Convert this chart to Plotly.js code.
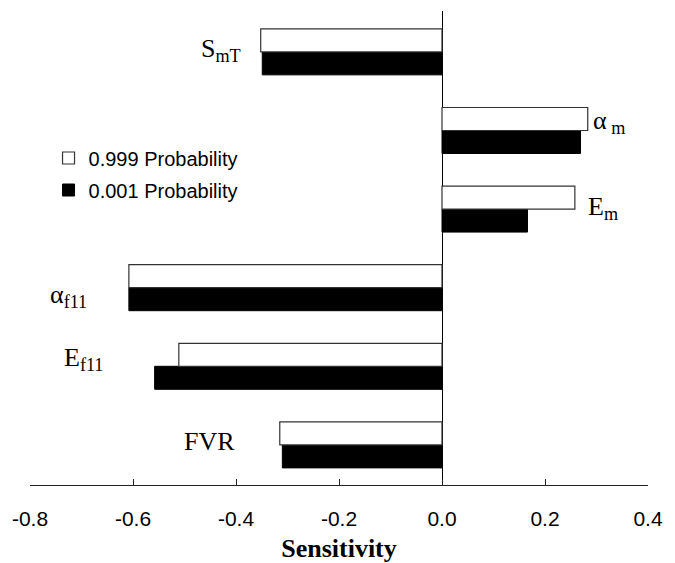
<!DOCTYPE html>
<html>
<head>
<meta charset="utf-8">
<script src="https://cdn.plot.ly/plotly-3.0.1.min.js"></script>
<style>html,body{margin:0;padding:0;background:#fff;}#chart{width:675px;height:563px;}</style>
</head>
<body>
<div id="chart"></div>
<script>
// categories from bottom to top
var categories = ["FVR", "Ef11", "af11", "Em", "am", "SmT"];
var categoryLabels = ["FVR", "E<sub>f11</sub>", "α<sub>f11</sub>", "E<sub>m</sub>", "α<sub> m</sub>", "S<sub>mT</sub>"];
var prob999 = [-0.315, -0.511, -0.608, 0.258, 0.283, -0.352];
var prob001 = [-0.310, -0.558, -0.608, 0.166, 0.269, -0.349];
var seriesNames = ["0.999 Probability", "0.001 Probability"];
var xTicks = [-0.8, -0.6, -0.4, -0.2, 0.0, 0.2, 0.4];
var xTickText = ["-0.8", "-0.6", "-0.4", "-0.2", "0.0", "0.2", "0.4"];

// label placement (styles/positions, not data)
var labelX = [-0.399, -0.655, -0.685, 0.28, 0.29, -0.387];
var labelAnchor = ["right", "right", "right", "left", "left", "right"];
var labelShift = [3, 7, -8, 1, 8, 2];

var traces = [
  {type: "bar", orientation: "h", y: categories, x: prob001, name: seriesNames[1],
   legendrank: 2, legendgroup: "b",
   marker: {color: "#000000", line: {color: "#000000", width: 1}}},
  {type: "bar", orientation: "h", y: categories, x: prob999, name: seriesNames[0],
   legendrank: 1, legendgroup: "a",
   marker: {color: "#ffffff", line: {color: "#333333", width: 1.2}}}
];

var annotations = categories.map(function (c, i) {
  return {x: labelX[i], y: c, xref: "x", yref: "y", text: categoryLabels[i],
    showarrow: false, xanchor: labelAnchor[i], yanchor: "middle", yshift: labelShift[i],
    font: {family: "Liberation Serif, Times New Roman, serif", size: 26, color: "#000"}};
});

var layout = {
  width: 675, height: 563,
  margin: {l: 30, r: 27, t: 11, b: 78},
  paper_bgcolor: "#fff", plot_bgcolor: "#fff",
  barmode: "group", bargap: 0.415, bargroupgap: 0,
  showlegend: true,
  legend: {x: 0.03, y: 0.731, xanchor: "left", yanchor: "top", traceorder: "grouped",
    tracegroupgap: 3, bgcolor: "rgba(0,0,0,0)",
    font: {family: "Liberation Sans, Arial, sans-serif", size: 20, color: "#000"}},
  xaxis: {range: [-0.8, 0.4], tickvals: xTicks, ticktext: xTickText,
    showgrid: false, zeroline: true, zerolinecolor: "#000", zerolinewidth: 1,
    showline: true, linecolor: "#222", linewidth: 1,
    ticks: "inside", ticklen: 6, tickcolor: "#222", ticklabelstandoff: 15,
    tickfont: {family: "Liberation Sans, Arial, sans-serif", size: 21, color: "#000"},
    title: {text: "<b>Sensitivity</b>", standoff: 10,
      font: {family: "Liberation Serif, Times New Roman, serif", size: 26, color: "#000"}}},
  yaxis: {type: "category", categoryorder: "array", categoryarray: categories,
    range: [-0.51, 5.52], showticklabels: false, ticks: "", showgrid: false,
    zeroline: false, showline: false},
  annotations: annotations
};

Plotly.newPlot("chart", traces, layout, {displayModeBar: false, staticPlot: true});
</script>
</body>
</html>
